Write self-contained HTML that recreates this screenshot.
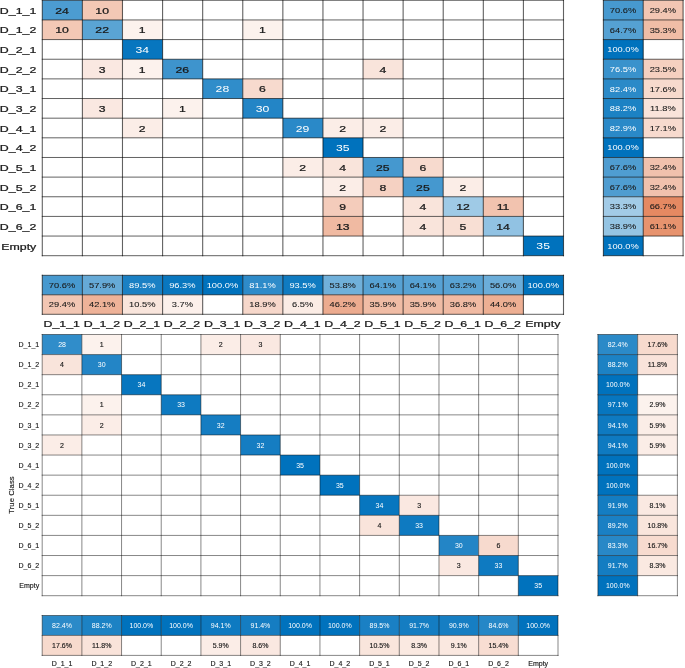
<!DOCTYPE html>
<html><head><meta charset="utf-8"><title>Confusion charts</title>
<style>
html,body{margin:0;padding:0;background:#fff}
body{width:685px;height:668px;overflow:hidden}
svg{display:block;font-family:"Liberation Sans",sans-serif}
</style></head><body>
<svg width="685" height="668" viewBox="0 0 685 668">
<rect width="685" height="668" fill="#fff"/>
<g><rect x="42.30" y="0.30" width="40.09" height="19.65" fill="#4c9cd1"/><rect x="82.39" y="0.30" width="40.09" height="19.65" fill="#f3c8b5"/><rect x="42.30" y="19.95" width="40.09" height="19.65" fill="#f3c8b5"/><rect x="82.39" y="19.95" width="40.09" height="19.65" fill="#5aa4d4"/><rect x="122.48" y="19.95" width="40.09" height="19.65" fill="#fcf2ed"/><rect x="242.76" y="19.95" width="40.09" height="19.65" fill="#fcf2ed"/><rect x="122.48" y="39.59" width="40.09" height="19.65" fill="#0776bf"/><rect x="82.39" y="59.24" width="40.09" height="19.65" fill="#fae8e1"/><rect x="122.48" y="59.24" width="40.09" height="19.65" fill="#fcf2ed"/><rect x="162.58" y="59.24" width="40.09" height="19.65" fill="#3e94cd"/><rect x="363.04" y="59.24" width="40.09" height="19.65" fill="#f9e4db"/><rect x="202.67" y="78.88" width="40.09" height="19.65" fill="#308dca"/><rect x="242.76" y="78.88" width="40.09" height="19.65" fill="#f7dace"/><rect x="82.39" y="98.53" width="40.09" height="19.65" fill="#fae8e1"/><rect x="162.58" y="98.53" width="40.09" height="19.65" fill="#fcf2ed"/><rect x="242.76" y="98.53" width="40.09" height="19.65" fill="#2385c6"/><rect x="122.48" y="118.18" width="40.09" height="19.65" fill="#fbede7"/><rect x="282.85" y="118.18" width="40.09" height="19.65" fill="#2a89c8"/><rect x="322.95" y="118.18" width="40.09" height="19.65" fill="#fbede7"/><rect x="363.04" y="118.18" width="40.09" height="19.65" fill="#fbede7"/><rect x="322.95" y="137.82" width="40.09" height="19.65" fill="#0072bd"/><rect x="282.85" y="157.47" width="40.09" height="19.65" fill="#fbede7"/><rect x="322.95" y="157.47" width="40.09" height="19.65" fill="#f9e4db"/><rect x="363.04" y="157.47" width="40.09" height="19.65" fill="#4598cf"/><rect x="403.13" y="157.47" width="40.09" height="19.65" fill="#f7dace"/><rect x="322.95" y="177.12" width="40.09" height="19.65" fill="#fbede7"/><rect x="363.04" y="177.12" width="40.09" height="19.65" fill="#f5d1c2"/><rect x="403.13" y="177.12" width="40.09" height="19.65" fill="#4598cf"/><rect x="443.22" y="177.12" width="40.09" height="19.65" fill="#fbede7"/><rect x="322.95" y="196.76" width="40.09" height="19.65" fill="#f4ccbb"/><rect x="403.13" y="196.76" width="40.09" height="19.65" fill="#f9e4db"/><rect x="443.22" y="196.76" width="40.09" height="19.65" fill="#9fcae6"/><rect x="483.32" y="196.76" width="40.09" height="19.65" fill="#f2c3af"/><rect x="322.95" y="216.41" width="40.09" height="19.65" fill="#f0baa2"/><rect x="403.13" y="216.41" width="40.09" height="19.65" fill="#f9e4db"/><rect x="443.22" y="216.41" width="40.09" height="19.65" fill="#f8dfd4"/><rect x="483.32" y="216.41" width="40.09" height="19.65" fill="#91c2e3"/><rect x="523.41" y="236.05" width="40.09" height="19.65" fill="#0072bd"/><rect x="603.40" y="0.30" width="39.85" height="19.65" fill="#4799cf"/><rect x="643.25" y="0.30" width="39.85" height="19.65" fill="#f2c6b3"/><rect x="603.40" y="19.95" width="39.85" height="19.65" fill="#55a1d3"/><rect x="643.25" y="19.95" width="39.85" height="19.65" fill="#f0bda6"/><rect x="603.40" y="39.59" width="39.85" height="19.65" fill="#0072bd"/><rect x="603.40" y="59.24" width="39.85" height="19.65" fill="#3992cc"/><rect x="643.25" y="59.24" width="39.85" height="19.65" fill="#f5d0c0"/><rect x="603.40" y="78.88" width="39.85" height="19.65" fill="#2b8ac8"/><rect x="643.25" y="78.88" width="39.85" height="19.65" fill="#f7dacd"/><rect x="603.40" y="98.53" width="39.85" height="19.65" fill="#1c82c4"/><rect x="643.25" y="98.53" width="39.85" height="19.65" fill="#f9e3da"/><rect x="603.40" y="118.18" width="39.85" height="19.65" fill="#2a89c8"/><rect x="643.25" y="118.18" width="39.85" height="19.65" fill="#f7dace"/><rect x="603.40" y="137.82" width="39.85" height="19.65" fill="#0072bd"/><rect x="603.40" y="157.47" width="39.85" height="19.65" fill="#4f9dd1"/><rect x="643.25" y="157.47" width="39.85" height="19.65" fill="#f1c1ad"/><rect x="603.40" y="177.12" width="39.85" height="19.65" fill="#4f9dd1"/><rect x="643.25" y="177.12" width="39.85" height="19.65" fill="#f1c1ad"/><rect x="603.40" y="196.76" width="39.85" height="19.65" fill="#a2cbe7"/><rect x="643.25" y="196.76" width="39.85" height="19.65" fill="#e58962"/><rect x="603.40" y="216.41" width="39.85" height="19.65" fill="#94c4e3"/><rect x="643.25" y="216.41" width="39.85" height="19.65" fill="#e7936e"/><rect x="603.40" y="236.05" width="39.85" height="19.65" fill="#0072bd"/><rect x="42.30" y="275.30" width="40.09" height="19.50" fill="#4799cf"/><rect x="42.30" y="294.80" width="40.09" height="19.50" fill="#f2c6b3"/><rect x="82.39" y="275.30" width="40.09" height="19.50" fill="#66aad7"/><rect x="82.39" y="294.80" width="40.09" height="19.50" fill="#eeb298"/><rect x="122.48" y="275.30" width="40.09" height="19.50" fill="#1a80c4"/><rect x="122.48" y="294.80" width="40.09" height="19.50" fill="#f9e5dc"/><rect x="162.58" y="275.30" width="40.09" height="19.50" fill="#0977bf"/><rect x="162.58" y="294.80" width="40.09" height="19.50" fill="#fcf0eb"/><rect x="202.67" y="275.30" width="40.09" height="19.50" fill="#0072bd"/><rect x="242.76" y="275.30" width="40.09" height="19.50" fill="#2e8bc9"/><rect x="242.76" y="294.80" width="40.09" height="19.50" fill="#f6d7ca"/><rect x="282.85" y="275.30" width="40.09" height="19.50" fill="#107bc1"/><rect x="282.85" y="294.80" width="40.09" height="19.50" fill="#fbece5"/><rect x="322.95" y="275.30" width="40.09" height="19.50" fill="#70b0da"/><rect x="322.95" y="294.80" width="40.09" height="19.50" fill="#ecab8f"/><rect x="363.04" y="275.30" width="40.09" height="19.50" fill="#57a2d4"/><rect x="363.04" y="294.80" width="40.09" height="19.50" fill="#f0bca5"/><rect x="403.13" y="275.30" width="40.09" height="19.50" fill="#57a2d4"/><rect x="403.13" y="294.80" width="40.09" height="19.50" fill="#f0bca5"/><rect x="443.22" y="275.30" width="40.09" height="19.50" fill="#59a3d4"/><rect x="443.22" y="294.80" width="40.09" height="19.50" fill="#f0baa3"/><rect x="483.32" y="275.30" width="40.09" height="19.50" fill="#6badd9"/><rect x="483.32" y="294.80" width="40.09" height="19.50" fill="#edaf93"/><rect x="523.41" y="275.30" width="40.09" height="19.50" fill="#0072bd"/></g>
<g stroke="#000" stroke-opacity="0.62" fill="none"><path d="M42.30 -0.20V256.20" stroke-width="1.1"/><path d="M41.80 0.30H564.00" stroke-width="1"/><path d="M82.39 -0.20V256.20" stroke-width="1.1"/><path d="M41.80 19.95H564.00" stroke-width="1"/><path d="M122.48 -0.20V256.20" stroke-width="1.1"/><path d="M41.80 39.59H564.00" stroke-width="1"/><path d="M162.58 -0.20V256.20" stroke-width="1.1"/><path d="M41.80 59.24H564.00" stroke-width="1"/><path d="M202.67 -0.20V256.20" stroke-width="1.1"/><path d="M41.80 78.88H564.00" stroke-width="1"/><path d="M242.76 -0.20V256.20" stroke-width="1.1"/><path d="M41.80 98.53H564.00" stroke-width="1"/><path d="M282.85 -0.20V256.20" stroke-width="1.1"/><path d="M41.80 118.18H564.00" stroke-width="1"/><path d="M322.95 -0.20V256.20" stroke-width="1.1"/><path d="M41.80 137.82H564.00" stroke-width="1"/><path d="M363.04 -0.20V256.20" stroke-width="1.1"/><path d="M41.80 157.47H564.00" stroke-width="1"/><path d="M403.13 -0.20V256.20" stroke-width="1.1"/><path d="M41.80 177.12H564.00" stroke-width="1"/><path d="M443.22 -0.20V256.20" stroke-width="1.1"/><path d="M41.80 196.76H564.00" stroke-width="1"/><path d="M483.32 -0.20V256.20" stroke-width="1.1"/><path d="M41.80 216.41H564.00" stroke-width="1"/><path d="M523.41 -0.20V256.20" stroke-width="1.1"/><path d="M41.80 236.05H564.00" stroke-width="1"/><path d="M563.50 -0.20V256.20" stroke-width="1.1"/><path d="M41.80 255.70H564.00" stroke-width="1"/><path d="M603.40 -0.20V256.20" stroke-width="1.1"/><path d="M643.25 -0.20V256.20" stroke-width="1.1"/><path d="M683.10 -0.20V256.20" stroke-width="1.1"/><path d="M602.90 0.30H683.60" stroke-width="1"/><path d="M602.90 19.95H683.60" stroke-width="1"/><path d="M602.90 39.59H683.60" stroke-width="1"/><path d="M602.90 59.24H683.60" stroke-width="1"/><path d="M602.90 78.88H683.60" stroke-width="1"/><path d="M602.90 98.53H683.60" stroke-width="1"/><path d="M602.90 118.18H683.60" stroke-width="1"/><path d="M602.90 137.82H683.60" stroke-width="1"/><path d="M602.90 157.47H683.60" stroke-width="1"/><path d="M602.90 177.12H683.60" stroke-width="1"/><path d="M602.90 196.76H683.60" stroke-width="1"/><path d="M602.90 216.41H683.60" stroke-width="1"/><path d="M602.90 236.05H683.60" stroke-width="1"/><path d="M602.90 255.70H683.60" stroke-width="1"/><path d="M41.80 275.30H564.00" stroke-width="1"/><path d="M41.80 294.80H564.00" stroke-width="1"/><path d="M41.80 314.30H564.00" stroke-width="1"/><path d="M42.30 274.80V314.80" stroke-width="1.1"/><path d="M82.39 274.80V314.80" stroke-width="1.1"/><path d="M122.48 274.80V314.80" stroke-width="1.1"/><path d="M162.58 274.80V314.80" stroke-width="1.1"/><path d="M202.67 274.80V314.80" stroke-width="1.1"/><path d="M242.76 274.80V314.80" stroke-width="1.1"/><path d="M282.85 274.80V314.80" stroke-width="1.1"/><path d="M322.95 274.80V314.80" stroke-width="1.1"/><path d="M363.04 274.80V314.80" stroke-width="1.1"/><path d="M403.13 274.80V314.80" stroke-width="1.1"/><path d="M443.22 274.80V314.80" stroke-width="1.1"/><path d="M483.32 274.80V314.80" stroke-width="1.1"/><path d="M523.41 274.80V314.80" stroke-width="1.1"/><path d="M563.50 274.80V314.80" stroke-width="1.1"/></g>
<g stroke-width="0.25"><text transform="translate(62.05 13.72) scale(1.33 1)" font-size="9.2" fill="#1a1a1a" stroke="#1a1a1a" stroke-width="0.25" text-anchor="middle">24</text>
<text transform="translate(102.14 13.72) scale(1.33 1)" font-size="9.2" fill="#1a1a1a" stroke="#1a1a1a" stroke-width="0.25" text-anchor="middle">10</text>
<text transform="translate(62.05 33.36) scale(1.33 1)" font-size="9.2" fill="#1a1a1a" stroke="#1a1a1a" stroke-width="0.25" text-anchor="middle">10</text>
<text transform="translate(102.14 33.36) scale(1.33 1)" font-size="9.2" fill="#1a1a1a" stroke="#1a1a1a" stroke-width="0.25" text-anchor="middle">22</text>
<text transform="translate(142.23 33.36) scale(1.33 1)" font-size="9.2" fill="#1a1a1a" stroke="#1a1a1a" stroke-width="0.25" text-anchor="middle">1</text>
<text transform="translate(262.51 33.36) scale(1.33 1)" font-size="9.2" fill="#1a1a1a" stroke="#1a1a1a" stroke-width="0.25" text-anchor="middle">1</text>
<text transform="translate(142.23 53.01) scale(1.33 1)" font-size="9.2" fill="#fff" stroke="none" stroke-width="0.25" text-anchor="middle">34</text>
<text transform="translate(102.14 72.66) scale(1.33 1)" font-size="9.2" fill="#1a1a1a" stroke="#1a1a1a" stroke-width="0.25" text-anchor="middle">3</text>
<text transform="translate(142.23 72.66) scale(1.33 1)" font-size="9.2" fill="#1a1a1a" stroke="#1a1a1a" stroke-width="0.25" text-anchor="middle">1</text>
<text transform="translate(182.32 72.66) scale(1.33 1)" font-size="9.2" fill="#1a1a1a" stroke="#1a1a1a" stroke-width="0.25" text-anchor="middle">26</text>
<text transform="translate(382.78 72.66) scale(1.33 1)" font-size="9.2" fill="#1a1a1a" stroke="#1a1a1a" stroke-width="0.25" text-anchor="middle">4</text>
<text transform="translate(222.42 92.30) scale(1.33 1)" font-size="9.2" fill="#fff" stroke="none" stroke-width="0.25" text-anchor="middle">28</text>
<text transform="translate(262.51 92.30) scale(1.33 1)" font-size="9.2" fill="#1a1a1a" stroke="#1a1a1a" stroke-width="0.25" text-anchor="middle">6</text>
<text transform="translate(102.14 111.95) scale(1.33 1)" font-size="9.2" fill="#1a1a1a" stroke="#1a1a1a" stroke-width="0.25" text-anchor="middle">3</text>
<text transform="translate(182.32 111.95) scale(1.33 1)" font-size="9.2" fill="#1a1a1a" stroke="#1a1a1a" stroke-width="0.25" text-anchor="middle">1</text>
<text transform="translate(262.51 111.95) scale(1.33 1)" font-size="9.2" fill="#fff" stroke="none" stroke-width="0.25" text-anchor="middle">30</text>
<text transform="translate(142.23 131.59) scale(1.33 1)" font-size="9.2" fill="#1a1a1a" stroke="#1a1a1a" stroke-width="0.25" text-anchor="middle">2</text>
<text transform="translate(302.60 131.59) scale(1.33 1)" font-size="9.2" fill="#fff" stroke="none" stroke-width="0.25" text-anchor="middle">29</text>
<text transform="translate(342.69 131.59) scale(1.33 1)" font-size="9.2" fill="#1a1a1a" stroke="#1a1a1a" stroke-width="0.25" text-anchor="middle">2</text>
<text transform="translate(382.78 131.59) scale(1.33 1)" font-size="9.2" fill="#1a1a1a" stroke="#1a1a1a" stroke-width="0.25" text-anchor="middle">2</text>
<text transform="translate(342.69 151.24) scale(1.33 1)" font-size="9.2" fill="#fff" stroke="none" stroke-width="0.25" text-anchor="middle">35</text>
<text transform="translate(302.60 170.89) scale(1.33 1)" font-size="9.2" fill="#1a1a1a" stroke="#1a1a1a" stroke-width="0.25" text-anchor="middle">2</text>
<text transform="translate(342.69 170.89) scale(1.33 1)" font-size="9.2" fill="#1a1a1a" stroke="#1a1a1a" stroke-width="0.25" text-anchor="middle">4</text>
<text transform="translate(382.78 170.89) scale(1.33 1)" font-size="9.2" fill="#1a1a1a" stroke="#1a1a1a" stroke-width="0.25" text-anchor="middle">25</text>
<text transform="translate(422.88 170.89) scale(1.33 1)" font-size="9.2" fill="#1a1a1a" stroke="#1a1a1a" stroke-width="0.25" text-anchor="middle">6</text>
<text transform="translate(342.69 190.53) scale(1.33 1)" font-size="9.2" fill="#1a1a1a" stroke="#1a1a1a" stroke-width="0.25" text-anchor="middle">2</text>
<text transform="translate(382.78 190.53) scale(1.33 1)" font-size="9.2" fill="#1a1a1a" stroke="#1a1a1a" stroke-width="0.25" text-anchor="middle">8</text>
<text transform="translate(422.88 190.53) scale(1.33 1)" font-size="9.2" fill="#1a1a1a" stroke="#1a1a1a" stroke-width="0.25" text-anchor="middle">25</text>
<text transform="translate(462.97 190.53) scale(1.33 1)" font-size="9.2" fill="#1a1a1a" stroke="#1a1a1a" stroke-width="0.25" text-anchor="middle">2</text>
<text transform="translate(342.69 210.18) scale(1.33 1)" font-size="9.2" fill="#1a1a1a" stroke="#1a1a1a" stroke-width="0.25" text-anchor="middle">9</text>
<text transform="translate(422.88 210.18) scale(1.33 1)" font-size="9.2" fill="#1a1a1a" stroke="#1a1a1a" stroke-width="0.25" text-anchor="middle">4</text>
<text transform="translate(462.97 210.18) scale(1.33 1)" font-size="9.2" fill="#1a1a1a" stroke="#1a1a1a" stroke-width="0.25" text-anchor="middle">12</text>
<text transform="translate(503.06 210.18) scale(1.33 1)" font-size="9.2" fill="#1a1a1a" stroke="#1a1a1a" stroke-width="0.25" text-anchor="middle">11</text>
<text transform="translate(342.69 229.82) scale(1.33 1)" font-size="9.2" fill="#1a1a1a" stroke="#1a1a1a" stroke-width="0.25" text-anchor="middle">13</text>
<text transform="translate(422.88 229.82) scale(1.33 1)" font-size="9.2" fill="#1a1a1a" stroke="#1a1a1a" stroke-width="0.25" text-anchor="middle">4</text>
<text transform="translate(462.97 229.82) scale(1.33 1)" font-size="9.2" fill="#1a1a1a" stroke="#1a1a1a" stroke-width="0.25" text-anchor="middle">5</text>
<text transform="translate(503.06 229.82) scale(1.33 1)" font-size="9.2" fill="#1a1a1a" stroke="#1a1a1a" stroke-width="0.25" text-anchor="middle">14</text>
<text transform="translate(543.15 249.47) scale(1.33 1)" font-size="9.2" fill="#fff" stroke="none" stroke-width="0.25" text-anchor="middle">35</text>
<text transform="translate(623.03 12.93) scale(1.33 1)" font-size="7" fill="#1a1a1a" stroke="#1a1a1a" stroke-width="0.08" text-anchor="middle">70.6%</text>
<text transform="translate(662.88 12.93) scale(1.33 1)" font-size="7" fill="#1a1a1a" stroke="#1a1a1a" stroke-width="0.08" text-anchor="middle">29.4%</text>
<text transform="translate(623.03 32.58) scale(1.33 1)" font-size="7" fill="#1a1a1a" stroke="#1a1a1a" stroke-width="0.08" text-anchor="middle">64.7%</text>
<text transform="translate(662.88 32.58) scale(1.33 1)" font-size="7" fill="#1a1a1a" stroke="#1a1a1a" stroke-width="0.08" text-anchor="middle">35.3%</text>
<text transform="translate(623.03 52.22) scale(1.33 1)" font-size="7" fill="#fff" stroke="none" stroke-width="0.08" text-anchor="middle">100.0%</text>
<text transform="translate(623.03 71.87) scale(1.33 1)" font-size="7" fill="#fff" stroke="none" stroke-width="0.08" text-anchor="middle">76.5%</text>
<text transform="translate(662.88 71.87) scale(1.33 1)" font-size="7" fill="#1a1a1a" stroke="#1a1a1a" stroke-width="0.08" text-anchor="middle">23.5%</text>
<text transform="translate(623.03 91.51) scale(1.33 1)" font-size="7" fill="#fff" stroke="none" stroke-width="0.08" text-anchor="middle">82.4%</text>
<text transform="translate(662.88 91.51) scale(1.33 1)" font-size="7" fill="#1a1a1a" stroke="#1a1a1a" stroke-width="0.08" text-anchor="middle">17.6%</text>
<text transform="translate(623.03 111.16) scale(1.33 1)" font-size="7" fill="#fff" stroke="none" stroke-width="0.08" text-anchor="middle">88.2%</text>
<text transform="translate(662.88 111.16) scale(1.33 1)" font-size="7" fill="#1a1a1a" stroke="#1a1a1a" stroke-width="0.08" text-anchor="middle">11.8%</text>
<text transform="translate(623.03 130.81) scale(1.33 1)" font-size="7" fill="#fff" stroke="none" stroke-width="0.08" text-anchor="middle">82.9%</text>
<text transform="translate(662.88 130.81) scale(1.33 1)" font-size="7" fill="#1a1a1a" stroke="#1a1a1a" stroke-width="0.08" text-anchor="middle">17.1%</text>
<text transform="translate(623.03 150.45) scale(1.33 1)" font-size="7" fill="#fff" stroke="none" stroke-width="0.08" text-anchor="middle">100.0%</text>
<text transform="translate(623.03 170.10) scale(1.33 1)" font-size="7" fill="#1a1a1a" stroke="#1a1a1a" stroke-width="0.08" text-anchor="middle">67.6%</text>
<text transform="translate(662.88 170.10) scale(1.33 1)" font-size="7" fill="#1a1a1a" stroke="#1a1a1a" stroke-width="0.08" text-anchor="middle">32.4%</text>
<text transform="translate(623.03 189.74) scale(1.33 1)" font-size="7" fill="#1a1a1a" stroke="#1a1a1a" stroke-width="0.08" text-anchor="middle">67.6%</text>
<text transform="translate(662.88 189.74) scale(1.33 1)" font-size="7" fill="#1a1a1a" stroke="#1a1a1a" stroke-width="0.08" text-anchor="middle">32.4%</text>
<text transform="translate(623.03 209.39) scale(1.33 1)" font-size="7" fill="#1a1a1a" stroke="#1a1a1a" stroke-width="0.08" text-anchor="middle">33.3%</text>
<text transform="translate(662.88 209.39) scale(1.33 1)" font-size="7" fill="#1a1a1a" stroke="#1a1a1a" stroke-width="0.08" text-anchor="middle">66.7%</text>
<text transform="translate(623.03 229.04) scale(1.33 1)" font-size="7" fill="#1a1a1a" stroke="#1a1a1a" stroke-width="0.08" text-anchor="middle">38.9%</text>
<text transform="translate(662.88 229.04) scale(1.33 1)" font-size="7" fill="#1a1a1a" stroke="#1a1a1a" stroke-width="0.08" text-anchor="middle">61.1%</text>
<text transform="translate(623.03 248.68) scale(1.33 1)" font-size="7" fill="#fff" stroke="none" stroke-width="0.08" text-anchor="middle">100.0%</text>
<text transform="translate(62.05 287.86) scale(1.33 1)" font-size="7" fill="#1a1a1a" stroke="#1a1a1a" stroke-width="0.08" text-anchor="middle">70.6%</text>
<text transform="translate(62.05 307.36) scale(1.33 1)" font-size="7" fill="#1a1a1a" stroke="#1a1a1a" stroke-width="0.08" text-anchor="middle">29.4%</text>
<text transform="translate(102.14 287.86) scale(1.33 1)" font-size="7" fill="#1a1a1a" stroke="#1a1a1a" stroke-width="0.08" text-anchor="middle">57.9%</text>
<text transform="translate(102.14 307.36) scale(1.33 1)" font-size="7" fill="#1a1a1a" stroke="#1a1a1a" stroke-width="0.08" text-anchor="middle">42.1%</text>
<text transform="translate(142.23 287.86) scale(1.33 1)" font-size="7" fill="#fff" stroke="none" stroke-width="0.08" text-anchor="middle">89.5%</text>
<text transform="translate(142.23 307.36) scale(1.33 1)" font-size="7" fill="#1a1a1a" stroke="#1a1a1a" stroke-width="0.08" text-anchor="middle">10.5%</text>
<text transform="translate(182.32 287.86) scale(1.33 1)" font-size="7" fill="#fff" stroke="none" stroke-width="0.08" text-anchor="middle">96.3%</text>
<text transform="translate(182.32 307.36) scale(1.33 1)" font-size="7" fill="#1a1a1a" stroke="#1a1a1a" stroke-width="0.08" text-anchor="middle">3.7%</text>
<text transform="translate(222.42 287.86) scale(1.33 1)" font-size="7" fill="#fff" stroke="none" stroke-width="0.08" text-anchor="middle">100.0%</text>
<text transform="translate(262.51 287.86) scale(1.33 1)" font-size="7" fill="#fff" stroke="none" stroke-width="0.08" text-anchor="middle">81.1%</text>
<text transform="translate(262.51 307.36) scale(1.33 1)" font-size="7" fill="#1a1a1a" stroke="#1a1a1a" stroke-width="0.08" text-anchor="middle">18.9%</text>
<text transform="translate(302.60 287.86) scale(1.33 1)" font-size="7" fill="#fff" stroke="none" stroke-width="0.08" text-anchor="middle">93.5%</text>
<text transform="translate(302.60 307.36) scale(1.33 1)" font-size="7" fill="#1a1a1a" stroke="#1a1a1a" stroke-width="0.08" text-anchor="middle">6.5%</text>
<text transform="translate(342.69 287.86) scale(1.33 1)" font-size="7" fill="#1a1a1a" stroke="#1a1a1a" stroke-width="0.08" text-anchor="middle">53.8%</text>
<text transform="translate(342.69 307.36) scale(1.33 1)" font-size="7" fill="#1a1a1a" stroke="#1a1a1a" stroke-width="0.08" text-anchor="middle">46.2%</text>
<text transform="translate(382.78 287.86) scale(1.33 1)" font-size="7" fill="#1a1a1a" stroke="#1a1a1a" stroke-width="0.08" text-anchor="middle">64.1%</text>
<text transform="translate(382.78 307.36) scale(1.33 1)" font-size="7" fill="#1a1a1a" stroke="#1a1a1a" stroke-width="0.08" text-anchor="middle">35.9%</text>
<text transform="translate(422.88 287.86) scale(1.33 1)" font-size="7" fill="#1a1a1a" stroke="#1a1a1a" stroke-width="0.08" text-anchor="middle">64.1%</text>
<text transform="translate(422.88 307.36) scale(1.33 1)" font-size="7" fill="#1a1a1a" stroke="#1a1a1a" stroke-width="0.08" text-anchor="middle">35.9%</text>
<text transform="translate(462.97 287.86) scale(1.33 1)" font-size="7" fill="#1a1a1a" stroke="#1a1a1a" stroke-width="0.08" text-anchor="middle">63.2%</text>
<text transform="translate(462.97 307.36) scale(1.33 1)" font-size="7" fill="#1a1a1a" stroke="#1a1a1a" stroke-width="0.08" text-anchor="middle">36.8%</text>
<text transform="translate(503.06 287.86) scale(1.33 1)" font-size="7" fill="#1a1a1a" stroke="#1a1a1a" stroke-width="0.08" text-anchor="middle">56.0%</text>
<text transform="translate(503.06 307.36) scale(1.33 1)" font-size="7" fill="#1a1a1a" stroke="#1a1a1a" stroke-width="0.08" text-anchor="middle">44.0%</text>
<text transform="translate(543.15 287.86) scale(1.33 1)" font-size="7" fill="#fff" stroke="none" stroke-width="0.08" text-anchor="middle">100.0%</text>
<text transform="translate(36.30 13.75) scale(1.33 1)" font-size="9.3" fill="#1a1a1a" stroke="#1a1a1a" stroke-width="0.25" text-anchor="end">D_1_1</text>
<text transform="translate(36.30 33.40) scale(1.33 1)" font-size="9.3" fill="#1a1a1a" stroke="#1a1a1a" stroke-width="0.25" text-anchor="end">D_1_2</text>
<text transform="translate(36.30 53.04) scale(1.33 1)" font-size="9.3" fill="#1a1a1a" stroke="#1a1a1a" stroke-width="0.25" text-anchor="end">D_2_1</text>
<text transform="translate(36.30 72.69) scale(1.33 1)" font-size="9.3" fill="#1a1a1a" stroke="#1a1a1a" stroke-width="0.25" text-anchor="end">D_2_2</text>
<text transform="translate(36.30 92.34) scale(1.33 1)" font-size="9.3" fill="#1a1a1a" stroke="#1a1a1a" stroke-width="0.25" text-anchor="end">D_3_1</text>
<text transform="translate(36.30 111.98) scale(1.33 1)" font-size="9.3" fill="#1a1a1a" stroke="#1a1a1a" stroke-width="0.25" text-anchor="end">D_3_2</text>
<text transform="translate(36.30 131.63) scale(1.33 1)" font-size="9.3" fill="#1a1a1a" stroke="#1a1a1a" stroke-width="0.25" text-anchor="end">D_4_1</text>
<text transform="translate(36.30 151.28) scale(1.33 1)" font-size="9.3" fill="#1a1a1a" stroke="#1a1a1a" stroke-width="0.25" text-anchor="end">D_4_2</text>
<text transform="translate(36.30 170.92) scale(1.33 1)" font-size="9.3" fill="#1a1a1a" stroke="#1a1a1a" stroke-width="0.25" text-anchor="end">D_5_1</text>
<text transform="translate(36.30 190.57) scale(1.33 1)" font-size="9.3" fill="#1a1a1a" stroke="#1a1a1a" stroke-width="0.25" text-anchor="end">D_5_2</text>
<text transform="translate(36.30 210.21) scale(1.33 1)" font-size="9.3" fill="#1a1a1a" stroke="#1a1a1a" stroke-width="0.25" text-anchor="end">D_6_1</text>
<text transform="translate(36.30 229.86) scale(1.33 1)" font-size="9.3" fill="#1a1a1a" stroke="#1a1a1a" stroke-width="0.25" text-anchor="end">D_6_2</text>
<text transform="translate(36.30 249.51) scale(1.33 1)" font-size="9.3" fill="#1a1a1a" stroke="#1a1a1a" stroke-width="0.25" text-anchor="end">Empty</text>
<text transform="translate(61.75 326.93) scale(1.33 1)" font-size="9.3" fill="#1a1a1a" stroke="#1a1a1a" stroke-width="0.25" text-anchor="middle">D_1_1</text>
<text transform="translate(101.84 326.93) scale(1.33 1)" font-size="9.3" fill="#1a1a1a" stroke="#1a1a1a" stroke-width="0.25" text-anchor="middle">D_1_2</text>
<text transform="translate(141.93 326.93) scale(1.33 1)" font-size="9.3" fill="#1a1a1a" stroke="#1a1a1a" stroke-width="0.25" text-anchor="middle">D_2_1</text>
<text transform="translate(182.02 326.93) scale(1.33 1)" font-size="9.3" fill="#1a1a1a" stroke="#1a1a1a" stroke-width="0.25" text-anchor="middle">D_2_2</text>
<text transform="translate(222.12 326.93) scale(1.33 1)" font-size="9.3" fill="#1a1a1a" stroke="#1a1a1a" stroke-width="0.25" text-anchor="middle">D_3_1</text>
<text transform="translate(262.21 326.93) scale(1.33 1)" font-size="9.3" fill="#1a1a1a" stroke="#1a1a1a" stroke-width="0.25" text-anchor="middle">D_3_2</text>
<text transform="translate(302.30 326.93) scale(1.33 1)" font-size="9.3" fill="#1a1a1a" stroke="#1a1a1a" stroke-width="0.25" text-anchor="middle">D_4_1</text>
<text transform="translate(342.39 326.93) scale(1.33 1)" font-size="9.3" fill="#1a1a1a" stroke="#1a1a1a" stroke-width="0.25" text-anchor="middle">D_4_2</text>
<text transform="translate(382.48 326.93) scale(1.33 1)" font-size="9.3" fill="#1a1a1a" stroke="#1a1a1a" stroke-width="0.25" text-anchor="middle">D_5_1</text>
<text transform="translate(422.58 326.93) scale(1.33 1)" font-size="9.3" fill="#1a1a1a" stroke="#1a1a1a" stroke-width="0.25" text-anchor="middle">D_5_2</text>
<text transform="translate(462.67 326.93) scale(1.33 1)" font-size="9.3" fill="#1a1a1a" stroke="#1a1a1a" stroke-width="0.25" text-anchor="middle">D_6_1</text>
<text transform="translate(502.76 326.93) scale(1.33 1)" font-size="9.3" fill="#1a1a1a" stroke="#1a1a1a" stroke-width="0.25" text-anchor="middle">D_6_2</text>
<text transform="translate(542.85 326.93) scale(1.33 1)" font-size="9.3" fill="#1a1a1a" stroke="#1a1a1a" stroke-width="0.25" text-anchor="middle">Empty</text></g>
<g><rect x="42.20" y="334.50" width="39.68" height="20.09" fill="#308dca"/><rect x="81.88" y="334.50" width="39.68" height="20.09" fill="#fcf2ed"/><rect x="200.91" y="334.50" width="39.68" height="20.09" fill="#fbede7"/><rect x="240.58" y="334.50" width="39.68" height="20.09" fill="#fae8e1"/><rect x="42.20" y="354.59" width="39.68" height="20.09" fill="#f9e4db"/><rect x="81.88" y="354.59" width="39.68" height="20.09" fill="#2385c6"/><rect x="121.55" y="374.68" width="39.68" height="20.09" fill="#0776bf"/><rect x="81.88" y="394.78" width="39.68" height="20.09" fill="#fcf2ed"/><rect x="161.23" y="394.78" width="39.68" height="20.09" fill="#0e7ac1"/><rect x="81.88" y="414.87" width="39.68" height="20.09" fill="#fbede7"/><rect x="200.91" y="414.87" width="39.68" height="20.09" fill="#157dc2"/><rect x="42.20" y="434.96" width="39.68" height="20.09" fill="#fbede7"/><rect x="240.58" y="434.96" width="39.68" height="20.09" fill="#157dc2"/><rect x="280.26" y="455.05" width="39.68" height="20.09" fill="#0072bd"/><rect x="319.94" y="475.15" width="39.68" height="20.09" fill="#0072bd"/><rect x="359.62" y="495.24" width="39.68" height="20.09" fill="#0776bf"/><rect x="399.29" y="495.24" width="39.68" height="20.09" fill="#fae8e1"/><rect x="359.62" y="515.33" width="39.68" height="20.09" fill="#f9e4db"/><rect x="399.29" y="515.33" width="39.68" height="20.09" fill="#0e7ac1"/><rect x="438.97" y="535.42" width="39.68" height="20.09" fill="#2385c6"/><rect x="478.65" y="535.42" width="39.68" height="20.09" fill="#f7dace"/><rect x="438.97" y="555.52" width="39.68" height="20.09" fill="#fae8e1"/><rect x="478.65" y="555.52" width="39.68" height="20.09" fill="#0e7ac1"/><rect x="518.32" y="575.61" width="39.68" height="20.09" fill="#0072bd"/><rect x="597.90" y="334.50" width="39.75" height="20.09" fill="#2b8ac8"/><rect x="637.65" y="334.50" width="39.75" height="20.09" fill="#f7dacd"/><rect x="597.90" y="354.59" width="39.75" height="20.09" fill="#1c82c4"/><rect x="637.65" y="354.59" width="39.75" height="20.09" fill="#f9e3da"/><rect x="597.90" y="374.68" width="39.75" height="20.09" fill="#0072bd"/><rect x="597.90" y="394.78" width="39.75" height="20.09" fill="#0776bf"/><rect x="637.65" y="394.78" width="39.75" height="20.09" fill="#fcf2ed"/><rect x="597.90" y="414.87" width="39.75" height="20.09" fill="#0e7ac1"/><rect x="637.65" y="414.87" width="39.75" height="20.09" fill="#fbede7"/><rect x="597.90" y="434.96" width="39.75" height="20.09" fill="#0e7ac1"/><rect x="637.65" y="434.96" width="39.75" height="20.09" fill="#fbede7"/><rect x="597.90" y="455.05" width="39.75" height="20.09" fill="#0072bd"/><rect x="597.90" y="475.15" width="39.75" height="20.09" fill="#0072bd"/><rect x="597.90" y="495.24" width="39.75" height="20.09" fill="#147dc2"/><rect x="637.65" y="495.24" width="39.75" height="20.09" fill="#fae9e2"/><rect x="597.90" y="515.33" width="39.75" height="20.09" fill="#1a80c4"/><rect x="637.65" y="515.33" width="39.75" height="20.09" fill="#f9e5dc"/><rect x="597.90" y="535.42" width="39.75" height="20.09" fill="#2888c7"/><rect x="637.65" y="535.42" width="39.75" height="20.09" fill="#f7dbcf"/><rect x="597.90" y="555.52" width="39.75" height="20.09" fill="#147dc2"/><rect x="637.65" y="555.52" width="39.75" height="20.09" fill="#fae9e1"/><rect x="597.90" y="575.61" width="39.75" height="20.09" fill="#0072bd"/><rect x="42.20" y="615.50" width="39.68" height="19.95" fill="#2b8ac8"/><rect x="42.20" y="635.45" width="39.68" height="19.95" fill="#f7dacd"/><rect x="81.88" y="615.50" width="39.68" height="19.95" fill="#1c82c4"/><rect x="81.88" y="635.45" width="39.68" height="19.95" fill="#f9e3da"/><rect x="121.55" y="615.50" width="39.68" height="19.95" fill="#0072bd"/><rect x="161.23" y="615.50" width="39.68" height="19.95" fill="#0072bd"/><rect x="200.91" y="615.50" width="39.68" height="19.95" fill="#0e7ac1"/><rect x="200.91" y="635.45" width="39.68" height="19.95" fill="#fbede7"/><rect x="240.58" y="615.50" width="39.68" height="19.95" fill="#157dc2"/><rect x="240.58" y="635.45" width="39.68" height="19.95" fill="#fae8e1"/><rect x="280.26" y="615.50" width="39.68" height="19.95" fill="#0072bd"/><rect x="319.94" y="615.50" width="39.68" height="19.95" fill="#0072bd"/><rect x="359.62" y="615.50" width="39.68" height="19.95" fill="#1a80c4"/><rect x="359.62" y="635.45" width="39.68" height="19.95" fill="#f9e5dc"/><rect x="399.29" y="615.50" width="39.68" height="19.95" fill="#147dc2"/><rect x="399.29" y="635.45" width="39.68" height="19.95" fill="#fae9e1"/><rect x="438.97" y="615.50" width="39.68" height="19.95" fill="#167ec3"/><rect x="438.97" y="635.45" width="39.68" height="19.95" fill="#fae8e0"/><rect x="478.65" y="615.50" width="39.68" height="19.95" fill="#2587c7"/><rect x="478.65" y="635.45" width="39.68" height="19.95" fill="#f8ddd2"/><rect x="518.32" y="615.50" width="39.68" height="19.95" fill="#0072bd"/></g>
<g stroke="#000" stroke-opacity="0.47" fill="none"><path d="M42.20 334.00V596.20" stroke-width="1"/><path d="M41.70 334.50H558.50" stroke-width="1"/><path d="M81.88 334.00V596.20" stroke-width="1"/><path d="M41.70 354.59H558.50" stroke-width="1"/><path d="M121.55 334.00V596.20" stroke-width="1"/><path d="M41.70 374.68H558.50" stroke-width="1"/><path d="M161.23 334.00V596.20" stroke-width="1"/><path d="M41.70 394.78H558.50" stroke-width="1"/><path d="M200.91 334.00V596.20" stroke-width="1"/><path d="M41.70 414.87H558.50" stroke-width="1"/><path d="M240.58 334.00V596.20" stroke-width="1"/><path d="M41.70 434.96H558.50" stroke-width="1"/><path d="M280.26 334.00V596.20" stroke-width="1"/><path d="M41.70 455.05H558.50" stroke-width="1"/><path d="M319.94 334.00V596.20" stroke-width="1"/><path d="M41.70 475.15H558.50" stroke-width="1"/><path d="M359.62 334.00V596.20" stroke-width="1"/><path d="M41.70 495.24H558.50" stroke-width="1"/><path d="M399.29 334.00V596.20" stroke-width="1"/><path d="M41.70 515.33H558.50" stroke-width="1"/><path d="M438.97 334.00V596.20" stroke-width="1"/><path d="M41.70 535.42H558.50" stroke-width="1"/><path d="M478.65 334.00V596.20" stroke-width="1"/><path d="M41.70 555.52H558.50" stroke-width="1"/><path d="M518.32 334.00V596.20" stroke-width="1"/><path d="M41.70 575.61H558.50" stroke-width="1"/><path d="M558.00 334.00V596.20" stroke-width="1"/><path d="M41.70 595.70H558.50" stroke-width="1"/><path d="M597.90 334.00V596.20" stroke-width="1"/><path d="M637.65 334.00V596.20" stroke-width="1"/><path d="M677.40 334.00V596.20" stroke-width="1"/><path d="M597.40 334.50H677.90" stroke-width="1"/><path d="M597.40 354.59H677.90" stroke-width="1"/><path d="M597.40 374.68H677.90" stroke-width="1"/><path d="M597.40 394.78H677.90" stroke-width="1"/><path d="M597.40 414.87H677.90" stroke-width="1"/><path d="M597.40 434.96H677.90" stroke-width="1"/><path d="M597.40 455.05H677.90" stroke-width="1"/><path d="M597.40 475.15H677.90" stroke-width="1"/><path d="M597.40 495.24H677.90" stroke-width="1"/><path d="M597.40 515.33H677.90" stroke-width="1"/><path d="M597.40 535.42H677.90" stroke-width="1"/><path d="M597.40 555.52H677.90" stroke-width="1"/><path d="M597.40 575.61H677.90" stroke-width="1"/><path d="M597.40 595.70H677.90" stroke-width="1"/><path d="M41.70 615.50H558.50" stroke-width="1"/><path d="M41.70 635.45H558.50" stroke-width="1"/><path d="M41.70 655.40H558.50" stroke-width="1"/><path d="M42.20 615.00V655.90" stroke-width="1"/><path d="M81.88 615.00V655.90" stroke-width="1"/><path d="M121.55 615.00V655.90" stroke-width="1"/><path d="M161.23 615.00V655.90" stroke-width="1"/><path d="M200.91 615.00V655.90" stroke-width="1"/><path d="M240.58 615.00V655.90" stroke-width="1"/><path d="M280.26 615.00V655.90" stroke-width="1"/><path d="M319.94 615.00V655.90" stroke-width="1"/><path d="M359.62 615.00V655.90" stroke-width="1"/><path d="M399.29 615.00V655.90" stroke-width="1"/><path d="M438.97 615.00V655.90" stroke-width="1"/><path d="M478.65 615.00V655.90" stroke-width="1"/><path d="M518.32 615.00V655.90" stroke-width="1"/><path d="M558.00 615.00V655.90" stroke-width="1"/></g>
<g stroke-width="0.15"><text x="62.04" y="347.20" font-size="7" fill="#fff" stroke="none" stroke-width="0.15" text-anchor="middle">28</text>
<text x="101.72" y="347.20" font-size="7" fill="#1a1a1a" stroke="#1a1a1a" stroke-width="0.15" text-anchor="middle">1</text>
<text x="220.75" y="347.20" font-size="7" fill="#1a1a1a" stroke="#1a1a1a" stroke-width="0.15" text-anchor="middle">2</text>
<text x="260.42" y="347.20" font-size="7" fill="#1a1a1a" stroke="#1a1a1a" stroke-width="0.15" text-anchor="middle">3</text>
<text x="62.04" y="367.29" font-size="7" fill="#1a1a1a" stroke="#1a1a1a" stroke-width="0.15" text-anchor="middle">4</text>
<text x="101.72" y="367.29" font-size="7" fill="#fff" stroke="none" stroke-width="0.15" text-anchor="middle">30</text>
<text x="141.39" y="387.39" font-size="7" fill="#fff" stroke="none" stroke-width="0.15" text-anchor="middle">34</text>
<text x="101.72" y="407.48" font-size="7" fill="#1a1a1a" stroke="#1a1a1a" stroke-width="0.15" text-anchor="middle">1</text>
<text x="181.07" y="407.48" font-size="7" fill="#fff" stroke="none" stroke-width="0.15" text-anchor="middle">33</text>
<text x="101.72" y="427.57" font-size="7" fill="#1a1a1a" stroke="#1a1a1a" stroke-width="0.15" text-anchor="middle">2</text>
<text x="220.75" y="427.57" font-size="7" fill="#fff" stroke="none" stroke-width="0.15" text-anchor="middle">32</text>
<text x="62.04" y="447.66" font-size="7" fill="#1a1a1a" stroke="#1a1a1a" stroke-width="0.15" text-anchor="middle">2</text>
<text x="260.42" y="447.66" font-size="7" fill="#fff" stroke="none" stroke-width="0.15" text-anchor="middle">32</text>
<text x="300.10" y="467.76" font-size="7" fill="#fff" stroke="none" stroke-width="0.15" text-anchor="middle">35</text>
<text x="339.78" y="487.85" font-size="7" fill="#fff" stroke="none" stroke-width="0.15" text-anchor="middle">35</text>
<text x="379.45" y="507.94" font-size="7" fill="#fff" stroke="none" stroke-width="0.15" text-anchor="middle">34</text>
<text x="419.13" y="507.94" font-size="7" fill="#1a1a1a" stroke="#1a1a1a" stroke-width="0.15" text-anchor="middle">3</text>
<text x="379.45" y="528.03" font-size="7" fill="#1a1a1a" stroke="#1a1a1a" stroke-width="0.15" text-anchor="middle">4</text>
<text x="419.13" y="528.03" font-size="7" fill="#fff" stroke="none" stroke-width="0.15" text-anchor="middle">33</text>
<text x="458.81" y="548.13" font-size="7" fill="#fff" stroke="none" stroke-width="0.15" text-anchor="middle">30</text>
<text x="498.48" y="548.13" font-size="7" fill="#1a1a1a" stroke="#1a1a1a" stroke-width="0.15" text-anchor="middle">6</text>
<text x="458.81" y="568.22" font-size="7" fill="#1a1a1a" stroke="#1a1a1a" stroke-width="0.15" text-anchor="middle">3</text>
<text x="498.48" y="568.22" font-size="7" fill="#fff" stroke="none" stroke-width="0.15" text-anchor="middle">33</text>
<text x="538.16" y="588.31" font-size="7" fill="#fff" stroke="none" stroke-width="0.15" text-anchor="middle">35</text>
<text x="617.77" y="347.20" font-size="7" fill="#fff" stroke="none" stroke-width="0.15" text-anchor="middle">82.4%</text>
<text x="657.52" y="347.20" font-size="7" fill="#1a1a1a" stroke="#1a1a1a" stroke-width="0.15" text-anchor="middle">17.6%</text>
<text x="617.77" y="367.29" font-size="7" fill="#fff" stroke="none" stroke-width="0.15" text-anchor="middle">88.2%</text>
<text x="657.52" y="367.29" font-size="7" fill="#1a1a1a" stroke="#1a1a1a" stroke-width="0.15" text-anchor="middle">11.8%</text>
<text x="617.77" y="387.39" font-size="7" fill="#fff" stroke="none" stroke-width="0.15" text-anchor="middle">100.0%</text>
<text x="617.77" y="407.48" font-size="7" fill="#fff" stroke="none" stroke-width="0.15" text-anchor="middle">97.1%</text>
<text x="657.52" y="407.48" font-size="7" fill="#1a1a1a" stroke="#1a1a1a" stroke-width="0.15" text-anchor="middle">2.9%</text>
<text x="617.77" y="427.57" font-size="7" fill="#fff" stroke="none" stroke-width="0.15" text-anchor="middle">94.1%</text>
<text x="657.52" y="427.57" font-size="7" fill="#1a1a1a" stroke="#1a1a1a" stroke-width="0.15" text-anchor="middle">5.9%</text>
<text x="617.77" y="447.66" font-size="7" fill="#fff" stroke="none" stroke-width="0.15" text-anchor="middle">94.1%</text>
<text x="657.52" y="447.66" font-size="7" fill="#1a1a1a" stroke="#1a1a1a" stroke-width="0.15" text-anchor="middle">5.9%</text>
<text x="617.77" y="467.76" font-size="7" fill="#fff" stroke="none" stroke-width="0.15" text-anchor="middle">100.0%</text>
<text x="617.77" y="487.85" font-size="7" fill="#fff" stroke="none" stroke-width="0.15" text-anchor="middle">100.0%</text>
<text x="617.77" y="507.94" font-size="7" fill="#fff" stroke="none" stroke-width="0.15" text-anchor="middle">91.9%</text>
<text x="657.52" y="507.94" font-size="7" fill="#1a1a1a" stroke="#1a1a1a" stroke-width="0.15" text-anchor="middle">8.1%</text>
<text x="617.77" y="528.03" font-size="7" fill="#fff" stroke="none" stroke-width="0.15" text-anchor="middle">89.2%</text>
<text x="657.52" y="528.03" font-size="7" fill="#1a1a1a" stroke="#1a1a1a" stroke-width="0.15" text-anchor="middle">10.8%</text>
<text x="617.77" y="548.13" font-size="7" fill="#fff" stroke="none" stroke-width="0.15" text-anchor="middle">83.3%</text>
<text x="657.52" y="548.13" font-size="7" fill="#1a1a1a" stroke="#1a1a1a" stroke-width="0.15" text-anchor="middle">16.7%</text>
<text x="617.77" y="568.22" font-size="7" fill="#fff" stroke="none" stroke-width="0.15" text-anchor="middle">91.7%</text>
<text x="657.52" y="568.22" font-size="7" fill="#1a1a1a" stroke="#1a1a1a" stroke-width="0.15" text-anchor="middle">8.3%</text>
<text x="617.77" y="588.31" font-size="7" fill="#fff" stroke="none" stroke-width="0.15" text-anchor="middle">100.0%</text>
<text x="62.04" y="628.13" font-size="7" fill="#fff" stroke="none" stroke-width="0.15" text-anchor="middle">82.4%</text>
<text x="62.04" y="648.08" font-size="7" fill="#1a1a1a" stroke="#1a1a1a" stroke-width="0.15" text-anchor="middle">17.6%</text>
<text x="101.72" y="628.13" font-size="7" fill="#fff" stroke="none" stroke-width="0.15" text-anchor="middle">88.2%</text>
<text x="101.72" y="648.08" font-size="7" fill="#1a1a1a" stroke="#1a1a1a" stroke-width="0.15" text-anchor="middle">11.8%</text>
<text x="141.39" y="628.13" font-size="7" fill="#fff" stroke="none" stroke-width="0.15" text-anchor="middle">100.0%</text>
<text x="181.07" y="628.13" font-size="7" fill="#fff" stroke="none" stroke-width="0.15" text-anchor="middle">100.0%</text>
<text x="220.75" y="628.13" font-size="7" fill="#fff" stroke="none" stroke-width="0.15" text-anchor="middle">94.1%</text>
<text x="220.75" y="648.08" font-size="7" fill="#1a1a1a" stroke="#1a1a1a" stroke-width="0.15" text-anchor="middle">5.9%</text>
<text x="260.42" y="628.13" font-size="7" fill="#fff" stroke="none" stroke-width="0.15" text-anchor="middle">91.4%</text>
<text x="260.42" y="648.08" font-size="7" fill="#1a1a1a" stroke="#1a1a1a" stroke-width="0.15" text-anchor="middle">8.6%</text>
<text x="300.10" y="628.13" font-size="7" fill="#fff" stroke="none" stroke-width="0.15" text-anchor="middle">100.0%</text>
<text x="339.78" y="628.13" font-size="7" fill="#fff" stroke="none" stroke-width="0.15" text-anchor="middle">100.0%</text>
<text x="379.45" y="628.13" font-size="7" fill="#fff" stroke="none" stroke-width="0.15" text-anchor="middle">89.5%</text>
<text x="379.45" y="648.08" font-size="7" fill="#1a1a1a" stroke="#1a1a1a" stroke-width="0.15" text-anchor="middle">10.5%</text>
<text x="419.13" y="628.13" font-size="7" fill="#fff" stroke="none" stroke-width="0.15" text-anchor="middle">91.7%</text>
<text x="419.13" y="648.08" font-size="7" fill="#1a1a1a" stroke="#1a1a1a" stroke-width="0.15" text-anchor="middle">8.3%</text>
<text x="458.81" y="628.13" font-size="7" fill="#fff" stroke="none" stroke-width="0.15" text-anchor="middle">90.9%</text>
<text x="458.81" y="648.08" font-size="7" fill="#1a1a1a" stroke="#1a1a1a" stroke-width="0.15" text-anchor="middle">9.1%</text>
<text x="498.48" y="628.13" font-size="7" fill="#fff" stroke="none" stroke-width="0.15" text-anchor="middle">84.6%</text>
<text x="498.48" y="648.08" font-size="7" fill="#1a1a1a" stroke="#1a1a1a" stroke-width="0.15" text-anchor="middle">15.4%</text>
<text x="538.16" y="628.13" font-size="7" fill="#fff" stroke="none" stroke-width="0.15" text-anchor="middle">100.0%</text>
<text x="39.20" y="347.20" font-size="7" fill="#1a1a1a" stroke="#1a1a1a" stroke-width="0.15" text-anchor="end">D_1_1</text>
<text x="39.20" y="367.29" font-size="7" fill="#1a1a1a" stroke="#1a1a1a" stroke-width="0.15" text-anchor="end">D_1_2</text>
<text x="39.20" y="387.39" font-size="7" fill="#1a1a1a" stroke="#1a1a1a" stroke-width="0.15" text-anchor="end">D_2_1</text>
<text x="39.20" y="407.48" font-size="7" fill="#1a1a1a" stroke="#1a1a1a" stroke-width="0.15" text-anchor="end">D_2_2</text>
<text x="39.20" y="427.57" font-size="7" fill="#1a1a1a" stroke="#1a1a1a" stroke-width="0.15" text-anchor="end">D_3_1</text>
<text x="39.20" y="447.66" font-size="7" fill="#1a1a1a" stroke="#1a1a1a" stroke-width="0.15" text-anchor="end">D_3_2</text>
<text x="39.20" y="467.76" font-size="7" fill="#1a1a1a" stroke="#1a1a1a" stroke-width="0.15" text-anchor="end">D_4_1</text>
<text x="39.20" y="487.85" font-size="7" fill="#1a1a1a" stroke="#1a1a1a" stroke-width="0.15" text-anchor="end">D_4_2</text>
<text x="39.20" y="507.94" font-size="7" fill="#1a1a1a" stroke="#1a1a1a" stroke-width="0.15" text-anchor="end">D_5_1</text>
<text x="39.20" y="528.03" font-size="7" fill="#1a1a1a" stroke="#1a1a1a" stroke-width="0.15" text-anchor="end">D_5_2</text>
<text x="39.20" y="548.13" font-size="7" fill="#1a1a1a" stroke="#1a1a1a" stroke-width="0.15" text-anchor="end">D_6_1</text>
<text x="39.20" y="568.22" font-size="7" fill="#1a1a1a" stroke="#1a1a1a" stroke-width="0.15" text-anchor="end">D_6_2</text>
<text x="39.20" y="588.31" font-size="7" fill="#1a1a1a" stroke="#1a1a1a" stroke-width="0.15" text-anchor="end">Empty</text>
<text x="62.04" y="665.56" font-size="7" fill="#1a1a1a" stroke="#1a1a1a" stroke-width="0.15" text-anchor="middle">D_1_1</text>
<text x="101.72" y="665.56" font-size="7" fill="#1a1a1a" stroke="#1a1a1a" stroke-width="0.15" text-anchor="middle">D_1_2</text>
<text x="141.39" y="665.56" font-size="7" fill="#1a1a1a" stroke="#1a1a1a" stroke-width="0.15" text-anchor="middle">D_2_1</text>
<text x="181.07" y="665.56" font-size="7" fill="#1a1a1a" stroke="#1a1a1a" stroke-width="0.15" text-anchor="middle">D_2_2</text>
<text x="220.75" y="665.56" font-size="7" fill="#1a1a1a" stroke="#1a1a1a" stroke-width="0.15" text-anchor="middle">D_3_1</text>
<text x="260.42" y="665.56" font-size="7" fill="#1a1a1a" stroke="#1a1a1a" stroke-width="0.15" text-anchor="middle">D_3_2</text>
<text x="300.10" y="665.56" font-size="7" fill="#1a1a1a" stroke="#1a1a1a" stroke-width="0.15" text-anchor="middle">D_4_1</text>
<text x="339.78" y="665.56" font-size="7" fill="#1a1a1a" stroke="#1a1a1a" stroke-width="0.15" text-anchor="middle">D_4_2</text>
<text x="379.45" y="665.56" font-size="7" fill="#1a1a1a" stroke="#1a1a1a" stroke-width="0.15" text-anchor="middle">D_5_1</text>
<text x="419.13" y="665.56" font-size="7" fill="#1a1a1a" stroke="#1a1a1a" stroke-width="0.15" text-anchor="middle">D_5_2</text>
<text x="458.81" y="665.56" font-size="7" fill="#1a1a1a" stroke="#1a1a1a" stroke-width="0.15" text-anchor="middle">D_6_1</text>
<text x="498.48" y="665.56" font-size="7" fill="#1a1a1a" stroke="#1a1a1a" stroke-width="0.15" text-anchor="middle">D_6_2</text>
<text x="538.16" y="665.56" font-size="7" fill="#1a1a1a" stroke="#1a1a1a" stroke-width="0.15" text-anchor="middle">Empty</text></g>
<text transform="translate(13.6 495) rotate(-90)" font-size="7.8" fill="#1a1a1a" stroke="#1a1a1a" stroke-width="0.15" text-anchor="middle">True Class</text>
</svg>
</body></html>
